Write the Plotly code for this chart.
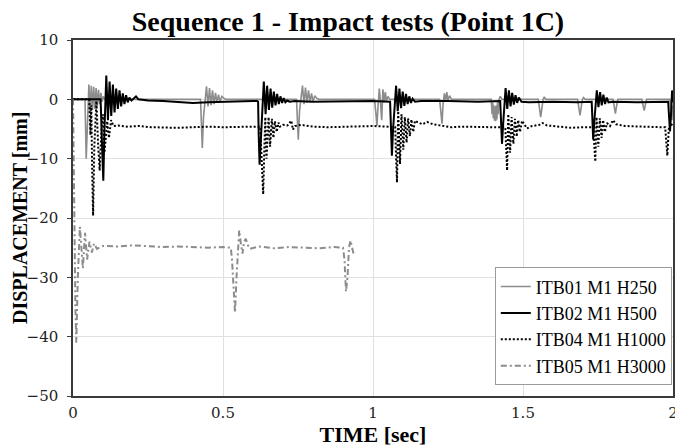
import plotly.graph_objects as go

# ---------------- data ----------------
# ITB01 M1 H250 (grey solid)
t01 = [0, 0.040, 0.044, 0.049, 0.053, 0.057, 0.061, 0.065, 0.069, 0.073, 0.077, 0.081, 0.085, 0.089, 0.093, 0.097, 0.101, 0.106,
       0.20, 0.30, 0.425, 0.428, 0.431, 0.435, 0.440, 0.445, 0.450, 0.455, 0.460, 0.465, 0.470, 0.475, 0.480, 0.485, 0.490, 0.496, 0.502, 0.510,
       0.60, 0.70, 0.745, 0.748, 0.751, 0.755, 0.760, 0.765, 0.770, 0.775, 0.780, 0.785, 0.790, 0.795, 0.800, 0.806, 0.812, 0.820,
       0.90, 1.005, 1.009, 1.013, 1.017, 1.021, 1.025, 1.029, 1.033, 1.037, 1.041, 1.045, 1.050, 1.056,
       1.15, 1.222, 1.226, 1.230, 1.234, 1.238, 1.242, 1.246, 1.250, 1.255, 1.262,
       1.35, 1.394, 1.397, 1.399, 1.401, 1.403, 1.405, 1.407, 1.409, 1.411, 1.413, 1.415, 1.417, 1.420, 1.424, 1.430,
       1.50, 1.551, 1.555, 1.559, 1.563, 1.567, 1.571, 1.576,
       1.64, 1.682, 1.686, 1.690, 1.694, 1.698, 1.702, 1.707,
       1.76, 1.800, 1.804, 1.808, 1.812, 1.816, 1.820,
       1.86, 1.896, 1.900, 1.904, 1.908, 1.912, 1.917,
       1.96, 1.990, 1.996, 2.0]
y01 = [0, 0, -10, -1, 2.5, -2.0, 2.3, -1.8, 2.1, -1.6, 1.9, -1.2, 1.6, -0.8, 1.1, -0.4, 0.5, 0,
       0, 0, 0, -4, -8.2, -3, 0, 2.2, -1.2, 1.9, -1.0, 1.5, -0.8, 1.1, -0.6, 0.8, -0.4, 0.5, 0.2, 0,
       0, 0, 0, -3.5, -6.8, -2, 0, 2.3, -0.8, 2.0, -0.6, 1.5, -0.5, 1.0, -0.3, 0.6, 0.2, 0,
       0, 0, -2, -4.5, -1, 1.8, -0.5, -3.5, 1.7, -0.5, 1.2, -0.3, 0.5, 0,
       0, 0, -2, -4.1, -0.5, 1.0, -0.3, 1.2, -0.2, 0.6, 0,
       0, 0, -2.5, -0.5, -3.2, -1.0, -3.6, -1.2, -3.7, -1.0, -3.4, -0.5, -2.5, 0, 0.5, 0,
       0, 0, -1.5, -3.0, -1.5, 0, 0.4, 0,
       0, 0, -1.4, -2.7, -1.3, 0, 0.3, 0,
       0, 0, -1.2, -2.4, -1.1, 0, 0,
       0, 0, -1.0, -1.9, -0.9, 0, 0,
       0, 0, -3.5, -1]

# ITB02 M1 H500 (black solid)
t02 = [0, 0.092, 0.097, 0.101, 0.105, 0.108,
       0.111, 0.1165, 0.122, 0.1275, 0.133, 0.1385, 0.144, 0.1495, 0.155, 0.1605, 0.166, 0.1715, 0.177, 0.1825, 0.188, 0.195,
       0.203, 0.210, 0.218, 0.25, 0.30, 0.35, 0.40, 0.45, 0.50, 0.55, 0.60, 0.614,
       0.617, 0.619, 0.622, 0.626, 0.631, 0.636,
       0.642, 0.647, 0.653, 0.6585, 0.664, 0.6695, 0.675, 0.6805, 0.686, 0.6915, 0.697, 0.7025, 0.708, 0.714,
       0.722, 0.74, 0.80, 0.90, 1.00, 1.057,
       1.060, 1.063, 1.067, 1.072, 1.077,
       1.0825, 1.088, 1.0935, 1.099, 1.1045, 1.110, 1.1155, 1.121, 1.1265, 1.132,
       1.14, 1.16, 1.25, 1.35, 1.424,
       1.427, 1.430, 1.434, 1.438, 1.442,
       1.4475, 1.453, 1.4585, 1.464, 1.4695, 1.475, 1.4805, 1.486,
       1.495, 1.52, 1.60, 1.68, 1.729,
       1.731, 1.734, 1.738, 1.742, 1.746,
       1.7515, 1.757, 1.7625, 1.768, 1.7735, 1.779, 1.785,
       1.80, 1.88, 1.984,
       1.987, 1.990, 1.994, 1.997, 2.0]
y02 = [0, 0, -8, -13.7, -5, 2.0,
       4.0, -3.5, 3.0, -2.8, 2.5, -2.2, 1.8, -1.6, 1.5, -1.2, 1.0, -0.8, 0.7, -0.5, 0.3, -0.2,
       0.1, 0.5, 0.0, -0.2, -0.3, -0.5, -0.6, -0.5, -0.4, -0.3, -0.3, -0.3,
       -0.4, -6, -11.0, -7, -1, 3.0,
       -2.5, 2.3, -1.8, 1.8, -1.4, 1.3, -1.0, 0.9, -0.8, 0.5, -0.6, 0.2, -0.5, -0.2,
       -0.4, -0.3, -0.4, -0.3, -0.3, -0.4,
       -5, -9.5, -5, -0.5, 2.3,
       -2.0, 1.8, -1.5, 1.3, -1.1, 0.9, -0.8, 0.5, -0.6, 0.1,
       -0.4, -0.3, -0.3, -0.4, -0.3,
       -4, -7.5, -4, -0.5, 1.9,
       -1.6, 1.5, -1.2, 1.1, -0.9, 0.7, -0.6, 0.3,
       -0.4, -0.5, -0.4, -0.5, -0.4,
       -4, -6.8, -3.5, -0.5, 1.5,
       -1.3, 1.2, -1.0, 0.8, -0.8, 0.3, -0.5,
       -0.4, -0.5, -0.4,
       -3, -5.4, -2, 1.5, -0.5]

# ITB04 M1 H1000 (black dotted)
t04 = [0, 0.054, 0.058, 0.061, 0.064, 0.067, 0.071, 0.078,
       0.084, 0.089, 0.095, 0.100, 0.105, 0.110, 0.114, 0.120, 0.127, 0.135,
       0.15, 0.18, 0.22, 0.26, 0.30, 0.35, 0.40, 0.45, 0.50, 0.55, 0.60, 0.624,
       0.629, 0.634, 0.638, 0.641, 0.645, 0.649, 0.652, 0.657, 0.660, 0.663, 0.668, 0.673, 0.679, 0.685, 0.690,
       0.70, 0.715, 0.728, 0.733, 0.74, 0.76, 0.80, 0.85, 0.90, 0.95, 1.00, 1.05, 1.074,
       1.077, 1.080, 1.084, 1.090, 1.095, 1.101, 1.106, 1.112, 1.117, 1.123, 1.128, 1.134, 1.14,
       1.15, 1.165, 1.18, 1.20, 1.22, 1.26, 1.30, 1.35, 1.40, 1.441,
       1.444, 1.447, 1.451, 1.457, 1.462, 1.468, 1.473, 1.479, 1.484, 1.490, 1.497, 1.505, 1.513,
       1.53, 1.555, 1.565, 1.58, 1.62, 1.66, 1.70, 1.735,
       1.738, 1.741, 1.745, 1.751, 1.756, 1.762, 1.767, 1.773, 1.780,
       1.79, 1.80, 1.81, 1.84, 1.88, 1.92, 1.96, 1.974,
       1.977, 1.981, 1.986, 1.992, 2.0]
y04 = [0, 0, -6, -1, -12, -19.6, -8, -0.3,
       -8, -12, -5, -2.5, -9, -5, -3.7, -6.5, -3.5, -4.5,
       -4.4, -4.6, -4.5, -4.7, -4.8, -4.8, -4.7, -4.6, -4.7, -4.6, -4.6, -4.6,
       -12, -16, -8, -3, -10, -5, -3, -8, -5, -3.3, -6.5, -3.7, -5.5, -3.9, -4.6,
       -4.3, -4.4, -3.6, -5.1, -4.5, -4.3, -4.6, -4.7, -4.6, -4.6, -4.5, -4.6, -4.7,
       -10, -14, -2, -10.9, -2.5, -8.5, -3, -7.3, -3.2, -6.2, -3.4, -5.5, -3.6,
       -3.9, -4.2, -3.8, -4.2, -4.4, -4.7, -4.6, -4.7, -4.7, -4.7,
       -9, -12, -2.5, -9, -3, -7.5, -3.3, -6.3, -3.5, -5.5, -3.6, -4.2, -4.9,
       -4.5, -4.3, -4.0, -4.4, -4.6, -4.8, -4.7, -4.7,
       -8, -10.5, -3, -8, -3.2, -6.5, -3.5, -5.5, -4.0,
       -4.5, -3.5, -4.2, -4.5, -4.6, -4.7, -4.7, -4.7,
       -7, -9.5, -5, -4.0, -4.6]

# ITB05 M1 H3000 (grey dash-dot)
t05 = [0, 0.004, 0.008, 0.011, 0.016, 0.023, 0.033, 0.040, 0.047, 0.055, 0.063, 0.070, 0.080, 0.10,
       0.15, 0.20, 0.25, 0.30, 0.35, 0.40, 0.45, 0.50, 0.526,
       0.530, 0.535, 0.540, 0.545, 0.550, 0.554, 0.560, 0.565, 0.570, 0.576, 0.582, 0.59,
       0.62, 0.67, 0.72, 0.77, 0.82, 0.87, 0.90,
       0.905, 0.910, 0.915, 0.920, 0.925, 0.930, 0.935]
y05 = [0, -20, -35, -41, -30, -21.5, -28.5, -22.5, -27, -24, -25.8, -24.3, -25.2, -24.7,
       -24.8, -24.6, -24.8, -24.9, -24.8, -24.9, -25.0, -24.9, -25.0,
       -27, -32, -36, -30, -24, -22.1, -24.5, -26, -24, -23.5, -24.5, -25.2,
       -24.8, -25.1, -24.9, -25.0, -25.1, -24.9, -25.0,
       -27, -32.4, -30, -25, -23.8, -25, -26]

names = ["ITB01 M1 H250", "ITB02 M1 H500", "ITB04 M1 H1000", "ITB05 M1 H3000"]
x_ticks = [0, 0.5, 1, 1.5, 2]
x_tick_text = ["0", "0.5", "1", "1.5", "2"]
y_ticks = [10, 0, -10, -20, -30, -40, -50]

for a, b in [(t01, y01), (t02, y02), (t04, y04), (t05, y05)]:
    assert len(a) == len(b), (len(a), len(b))

# ---------------- figure ----------------
SERIF = "Liberation Serif"
TICKF = "DejaVu Serif"

fig = go.Figure()
fig.add_trace(go.Scatter(x=t01, y=y01, mode="lines", name=names[0],
                         line=dict(color="#8c8c8c", width=1.6)))
fig.add_trace(go.Scatter(x=t02, y=y02, mode="lines", name=names[1],
                         line=dict(color="#000000", width=2)))
fig.add_trace(go.Scatter(x=t04, y=y04, mode="lines", name=names[2],
                         line=dict(color="#000000", width=2, dash="2px,2px")))
fig.add_trace(go.Scatter(x=t05, y=y05, mode="lines", name=names[3],
                         line=dict(color="#8c8c8c", width=2, dash="6px,3px,2px,3px")))

axis_common = dict(
    showgrid=True, gridcolor="#e0e0e0", gridwidth=1, automargin=False,
    zeroline=False, showline=True, linecolor="#3a3a3a", linewidth=1.5, mirror=True,
    tickfont=dict(family=TICKF, size=15, color="#222222"),
)

fig.update_layout(
    width=675, height=447, autosize=False,
    margin=dict(l=73, r=2, t=40, b=51, pad=0),
    paper_bgcolor="white", plot_bgcolor="white",
    title=dict(text="Sequence 1 - Impact tests (Point 1C)",
               font=dict(family=SERIF, size=28, color="#000000", weight="bold"),
               x=348 / 675, xanchor="center", xref="container",
               y=1 - 21 / 447, yanchor="middle", yref="container"),
    xaxis=dict(range=[0, 2], tickvals=x_ticks, ticktext=x_tick_text,
               ticks="", ticklabelstandoff=2, ticklabeloverflow="allow",
               title=dict(text="TIME [sec]", standoff=6,
                          font=dict(family=SERIF, size=22, color="#000000", weight="bold")),
               **axis_common),
    yaxis=dict(range=[-50, 10], tickvals=y_ticks,
               ticks="outside", ticklen=4, tickcolor="#3a3a3a", ticklabelstandoff=6,
               **axis_common),
    annotations=[dict(text="DISPLACEMENT [mm]", textangle=-90,
                      xref="paper", yref="paper", x=(20 - 73) / 600, y=0.5,
                      xanchor="center", yanchor="middle", showarrow=False,
                      font=dict(family=SERIF, size=20, color="#000000", weight="bold"))],
    legend=dict(x=0.998, xanchor="right", y=0.03, yanchor="bottom",
                bgcolor="white", bordercolor="#9a9a9a", borderwidth=1,
                font=dict(family=SERIF, size=18, color="#000000"),
                itemwidth=30, tracegroupgap=0),
    showlegend=True,
)

fig.write_html("out.html", config={"displayModeBar": False},
               post_script="document.body.style.margin='0';document.body.style.overflow='hidden';")
